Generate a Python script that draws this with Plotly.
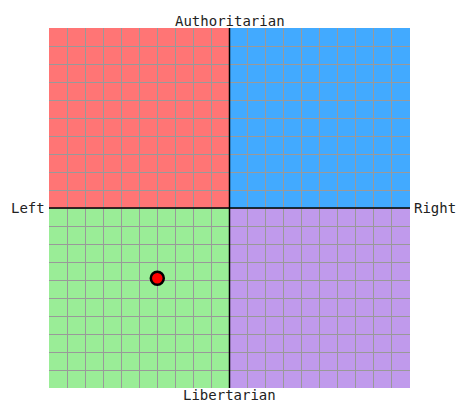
import plotly.graph_objects as go

# quadrant colours and the single plotted position
quadrants = [
    ((-10, 0), (0, 10), "#ff7575"),
    ((0, 10), (0, 10), "#42aaff"),
    ((-10, 0), (-10, 0), "#9aed97"),
    ((0, 10), (-10, 0), "#c09aec"),
]
point_x = [-4.0]
point_y = [-3.9]

fig = go.Figure()
fig.add_trace(go.Scatter(
    x=point_x, y=point_y, mode="markers",
    marker=dict(size=13, color="#ff0000", line=dict(color="black", width=2.5)),
    showlegend=False, hoverinfo="skip",
))

for (x0, x1), (y0, y1), col in quadrants:
    fig.add_shape(type="rect", x0=x0, x1=x1, y0=y0, y1=y1,
                  fillcolor=col, line_width=0, layer="below")

fig.add_shape(type="line", x0=0, x1=0, y0=-10, y1=10, line=dict(color="black", width=1.5))
fig.add_shape(type="line", x0=-10, x1=10, y0=0, y1=0, line=dict(color="black", width=1.5))

font = dict(family="DejaVu Sans Mono", size=14, color="#222")
labels = [
    ("Authoritarian", 0, 10, "center", "bottom"),
    ("Libertarian", 0, -10, "center", "top"),
    ("Left", -10, 0, "right", "middle"),
    ("Right", 10, 0, "left", "middle"),
]
for text, x, y, xa, ya in labels:
    fig.add_annotation(text=text, x=x, y=y, xanchor=xa, yanchor=ya,
                       showarrow=False, font=font,
                       xshift={"right": -2, "left": 2}.get(xa, 0),
                       yshift={"top": 3, "bottom": -3}.get(ya, 0))

axis = dict(range=[-10, 10], dtick=1, showgrid=True, gridcolor="#999999", gridwidth=1,
            zeroline=False, showticklabels=False, ticks="", showline=False, fixedrange=True)
fig.update_xaxes(**axis)
fig.update_yaxes(**axis)
fig.update_layout(
    width=452, height=393,
    margin=dict(l=41, r=50, t=20, b=13),
    plot_bgcolor="white", paper_bgcolor="white",
)
fig.write_html("out.html")
